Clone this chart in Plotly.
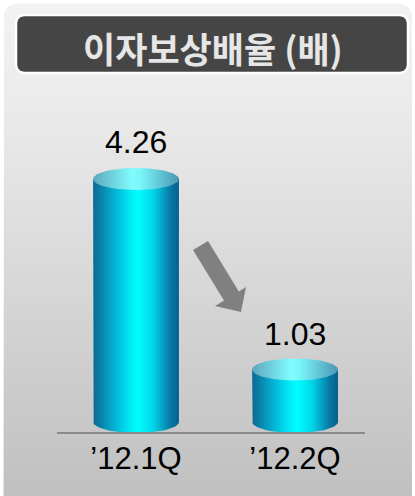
import numpy as np
import plotly.graph_objects as go

# ---- data ----
categories = ["’12.1Q", "’12.2Q"]
values = [4.26, 1.03]
title_text = "이자보상배율 (배)"

W, H = 415, 496

def rrect(x0, y0, x1, y1, r, n=12):
    xs, ys = [], []
    corners = [(x1 - r, y0 + r, -np.pi / 2, 0), (x1 - r, y1 - r, 0, np.pi / 2),
               (x0 + r, y1 - r, np.pi / 2, np.pi), (x0 + r, y0 + r, np.pi, 1.5 * np.pi)]
    for cx, cy, a0, a1 in corners:
        t = np.linspace(a0, a1, n)
        xs += list(cx + r * np.cos(t))
        ys += list(cy + r * np.sin(t))
    xs.append(xs[0]); ys.append(ys[0])
    return xs, ys

fig = go.Figure()

# background panel (pixel coordinate axes x/y)
px, py = rrect(3.5, 3.5, 412, 520, 13)
fig.add_trace(go.Scatter(x=px, y=py, mode="lines", line=dict(width=0), fill="toself",
                         fillgradient=dict(type="vertical", start=0, stop=H,
                                           colorscale=[[0, "#f3f3f3"], [0.25, "#e9e9e9"],
                                                       [1, "#c0c0c0"]]),
                         hoverinfo="skip", showlegend=False, xaxis="x", yaxis="y"))
# title box
tx, ty = rrect(16, 15, 408, 73, 8)
fig.add_trace(go.Scatter(x=tx, y=ty, mode="lines", line=dict(width=2.5, color="white"),
                         fill="toself", fillcolor="#454545", hoverinfo="skip",
                         showlegend=False, xaxis="x", yaxis="y"))
# arrow
ax_pts = [(193, 250), (208, 241), (238.8, 291.4), (246, 287), (241, 312), (215, 306), (224, 300.6), (193, 250)]
fig.add_trace(go.Scatter(x=[p[0] for p in ax_pts], y=[p[1] for p in ax_pts], mode="lines",
                         line=dict(width=0), fill="toself", fillcolor="#808080",
                         hoverinfo="skip", showlegend=False, xaxis="x", yaxis="y"))

# ---- cylinders on x2/y2 ----
hw = 0.27      # half width (x units)
ry = 0.187     # ellipse half height (y units)
base = 0.14
body_cs = [[0, "#0b6a93"], [0.12, "#0a8ab2"], [0.35, "#00d2ea"], [0.52, "#00ffff"],
           [0.7, "#00d6ea"], [0.9, "#0878a6"], [1, "#05608c"]]
cap_cs = [[0, "#5ea6be"], [0.45, "#80fcfc"], [0.55, "#7af6fa"], [1, "#4c96b4"]]
label_shift = [37, 35]
for i, v in enumerate(values):
    c = i
    t = np.linspace(np.pi, 2 * np.pi, 40)
    bx = [c - hw] + list(c + hw * np.cos(t)) + [c + hw, c - hw]
    by = [v] + list(base + ry * np.sin(t)) + [v, v]
    fig.add_trace(go.Scatter(x=bx, y=by, mode="lines", line=dict(width=0), fill="toself",
                             fillgradient=dict(type="horizontal", start=c - hw, stop=c + hw,
                                               colorscale=body_cs),
                             hoverinfo="skip", showlegend=False, xaxis="x2", yaxis="y2"))
    t2 = np.linspace(0, 2 * np.pi, 80)
    fig.add_trace(go.Scatter(x=list(c + hw * np.cos(t2)), y=list(v + ry * np.sin(t2)),
                             mode="lines", line=dict(width=0), fill="toself",
                             fillgradient=dict(type="horizontal", start=c - hw, stop=c + hw,
                                               colorscale=cap_cs),
                             hoverinfo="skip", showlegend=False, xaxis="x2", yaxis="y2"))
    fig.add_annotation(x=c, y=v, xref="x2", yref="y2", text=f"{v:.2f}", showarrow=False,
                       yanchor="middle", yshift=label_shift[i],
                       font=dict(family="Liberation Sans, Arial", size=32, color="black"))

fig.add_annotation(x=213, y=47, xref="x", yref="y", text=f"<b>{title_text}</b>", showarrow=False,
                   font=dict(family="Noto Sans CJK KR", size=35, color="#e6e6e6"))

fig.update_layout(
    width=W, height=H, margin=dict(l=0, r=0, t=0, b=0),
    paper_bgcolor="white", plot_bgcolor="rgba(0,0,0,0)",
    xaxis=dict(domain=[0, 1], range=[0, W], visible=False, fixedrange=True),
    yaxis=dict(domain=[0, 1], range=[H, 0], visible=False, fixedrange=True),
    xaxis2=dict(domain=[57 / W, 365 / W], range=[-0.497, 1.44], anchor="y2",
                tickvals=list(range(len(categories))), ticktext=categories,
                showgrid=False, zeroline=False, showline=True, linecolor="#8a8a8a", linewidth=2,
                tickfont=dict(family="Liberation Sans, Arial", size=31, color="black"),
                ticks="", ticklabelstandoff=-2, fixedrange=True),
    yaxis2=dict(domain=[(H - 432) / H, (H - 100) / H], range=[-0.03, 5.6], anchor="x2",
                visible=False, fixedrange=True),
    showlegend=False,
)
fig.write_html("out.html", config={"displayModeBar": False},
               post_script="document.body.style.margin='0';")
